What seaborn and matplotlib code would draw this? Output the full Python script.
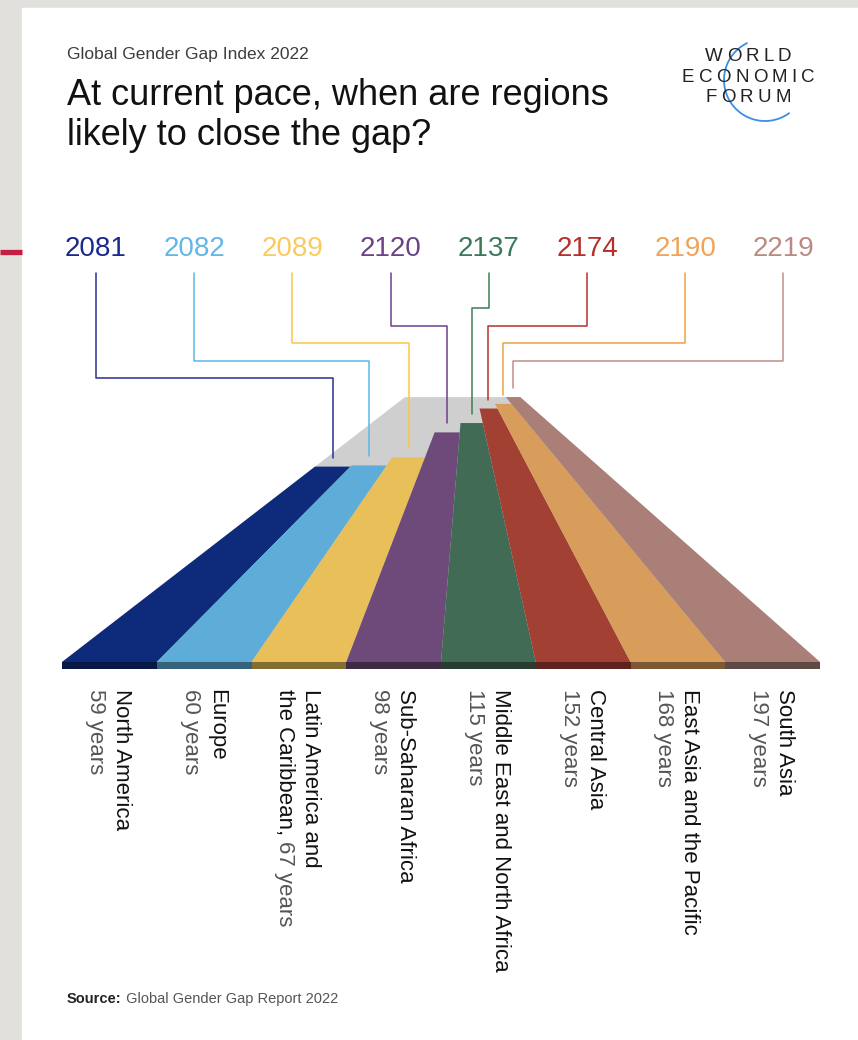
import numpy as np
import pandas as pd
import seaborn as sns
import matplotlib.pyplot as plt
from matplotlib.patches import Rectangle, Polygon

# data
regions = ["North America", "Europe", "Latin America and", "Sub-Saharan Africa",
           "Middle East and North Africa", "Central Asia", "East Asia and the Pacific", "South Asia"]
years_left = [59, 60, 67, 98, 115, 152, 168, 197]
parity_year = [2081, 2082, 2089, 2120, 2137, 2174, 2190, 2219]

bar_colors = ["#0e2a7b", "#5eadd8", "#e8bf58", "#6e4a7b", "#426b55", "#a34034", "#d89c5b", "#a97f77"]
year_colors = ["#1a2a8c", "#62b6e8", "#f9cb5e", "#6b4288", "#3b7a57", "#b5302b", "#eea45a", "#bb8a82"]
line_colors = ["#2a2f8f", "#5ab8ea", "#f8c848", "#6b3e8e", "#3d7d58", "#b8302a", "#f0a040", "#c09088"]

sns.set_theme(style="white")
plt.rcParams['font.family'] = ['Liberation Sans', 'DejaVu Sans']

fig = plt.figure(figsize=(8.58, 10.40), dpi=100)
fig.patch.set_facecolor('#e2e0dc')
ax = fig.add_axes([0, 0, 1, 1])

# card + red tick on the left margin
ax.add_patch(Rectangle((22, 8), 836, 1032, color='white', zorder=0))
ax.plot([0, 22], [252, 252], color='#c41e45', lw=3.8, solid_capstyle='butt')

# perspective road
VX, VY = 466.5, 349.6
BASE_Y = 662
K = 0.0283
n = len(regions)
edges = np.linspace(62, 820, n + 1)


def project(xb, yrs):
    s = 1 / (1 + K * yrs)
    return VX + (xb - VX) * s, VY + (BASE_Y - VY) * s


far = max(years_left)
road = [(edges[0], BASE_Y), (edges[-1], BASE_Y), project(edges[-1], far), project(edges[0], far)]
ax.add_patch(Polygon(road, closed=True, color='#cfcfcf', lw=0, zorder=1))

tops = []
for i in range(n):
    pl = project(edges[i], years_left[i])
    pr = project(edges[i + 1], years_left[i])
    ax.add_patch(Polygon([(edges[i], BASE_Y), (edges[i + 1], BASE_Y), pr, pl],
                         closed=True, color=bar_colors[i], lw=0, zorder=2))
    dark = tuple(c * 0.57 for c in sns.utils.to_rgb(bar_colors[i]))
    ax.add_patch(Rectangle((edges[i], BASE_Y), edges[i + 1] - edges[i], 7, color=dark, lw=0, zorder=2))
    tops.append(((pl[0] + pr[0]) / 2, pl[1]))

# connector lines from the year labels to the bar ends
label_x = [96 + i * 98.2 for i in range(n)]
rows = []
for i in range(n):
    elbow = 378 - i * 17.5 if i <= 4 else 308 + (i - 4) * 17.5
    tx, ty = tops[i]
    for px, py in [(label_x[i], 273), (label_x[i], elbow), (tx, elbow), (tx, ty - 9)]:
        rows.append({'region': regions[i], 'x': px, 'y': py})
conn = pd.DataFrame(rows)
sns.lineplot(data=conn, x='x', y='y', hue='region', palette=line_colors, sort=False,
             estimator=None, legend=False, lw=1.1, ax=ax, zorder=3)
ax.set_xlim(0, 858)
ax.set_ylim(1040, 0)
ax.axis('off')

for i in range(n):
    ax.text(label_x[i], 256, str(parity_year[i]), ha='center', va='baseline',
            fontsize=20, color=year_colors[i])

# region labels, rotated
for i in range(n):
    c = (edges[i] + edges[i + 1]) / 2
    ax.text(c + 12, 689, regions[i], rotation=270, ha='center', va='top',
            fontsize=16, color='#111111')
    if i == 2:
        t = ax.text(c - 14, 689, "the Caribbean,", rotation=270, ha='center', va='top',
                    fontsize=16, color='#111111')
        ax.annotate(f"{years_left[i]} years", xy=(0.5, 0), xycoords=t, xytext=(0, -4),
                    textcoords='offset points', rotation=270, ha='center', va='top',
                    fontsize=16, color='#555555')
    else:
        ax.text(c - 14, 689, f"{years_left[i]} years", rotation=270, ha='center', va='top',
                fontsize=16, color='#555555')

# titles
ax.text(67, 59, "Global Gender Gap Index 2022", fontsize=12.5, color='#3d3d3d', va='baseline')
ax.text(67, 105, "At current pace, when are regions", fontsize=26, color='#111111', va='baseline')
ax.text(67, 145, "likely to close the gap?", fontsize=26, color='#111111', va='baseline')

# source
src = ax.text(67, 1003, "Source:", fontsize=10.5, fontweight='bold', color='#222222', va='baseline')
ax.annotate(" Global Gender Gap Report 2022", xy=(1, 0), xycoords=src, fontsize=10.5,
            color='#555555', va='bottom', ha='left')

# logo
renderer = fig.canvas.get_renderer()


def spaced(word, xc, yb, size, track):
    widths = []
    for ch in word:
        t = ax.text(0, 0, ch, fontsize=size)
        widths.append(t.get_window_extent(renderer).width)
        t.remove()
    x = xc - (sum(widths) + track * (len(word) - 1)) / 2
    for ch, w in zip(word, widths):
        ax.text(x, yb, ch, fontsize=size, color='#222222', va='baseline', ha='left')
        x += w + track


spaced("WORLD", 748, 61, 13.5, 4.2)
spaced("ECONOMIC", 748, 82, 13.5, 4.2)
spaced("FORUM", 748, 102, 13.5, 4.2)
ang = np.radians(np.linspace(54, 244, 100))
ax.plot(765 + 41 * np.cos(ang), 80 + 41 * np.sin(ang), color='#3a8ee6', lw=1.3)

fig.savefig('out.png', dpi=100, facecolor=fig.get_facecolor())
